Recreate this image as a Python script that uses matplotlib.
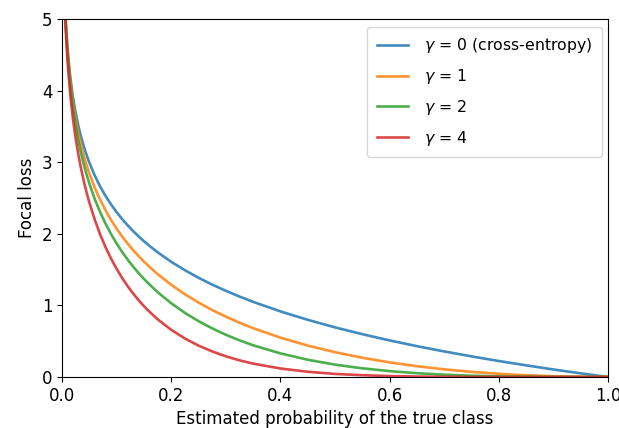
import matplotlib
matplotlib.use("Agg")
import matplotlib.pyplot as plt

plt.rcParams["font.size"] = 12

# Estimated probability of the true class (x positions of sampled points)
p = [0.001, 0.003, 0.005, 0.007, 0.01, 0.015, 0.02, 0.025, 0.03, 0.035, 0.04,
     0.045, 0.05, 0.06, 0.07, 0.08, 0.09, 0.1, 0.11, 0.12, 0.13, 0.14, 0.15,
     0.16, 0.175, 0.2, 0.225, 0.25, 0.275, 0.3, 0.325, 0.35, 0.4, 0.45, 0.5,
     0.55, 0.6, 0.65, 0.7, 0.75, 0.8, 0.85, 0.9, 0.95, 1.0]

# Focal loss values
loss_g0 = [6.908, 5.809, 5.298, 4.962, 4.605, 4.200, 3.912, 3.689, 3.507, 3.352, 3.219,
           3.101, 2.996, 2.813, 2.659, 2.526, 2.408, 2.303, 2.207, 2.120, 2.040, 1.966, 1.897,
           1.833, 1.743, 1.609, 1.492, 1.386, 1.291, 1.204, 1.124, 1.050, 0.916, 0.799, 0.693,
           0.598, 0.511, 0.431, 0.357, 0.288, 0.223, 0.163, 0.105, 0.051, 0.0]
loss_g1 = [6.901, 5.792, 5.272, 4.927, 4.559, 4.137, 3.834, 3.597, 3.402, 3.235, 3.090,
           2.961, 2.846, 2.644, 2.473, 2.324, 2.191, 2.072, 1.964, 1.866, 1.775, 1.691, 1.612,
           1.540, 1.438, 1.288, 1.156, 1.040, 0.936, 0.843, 0.759, 0.682, 0.550, 0.439, 0.347,
           0.269, 0.204, 0.151, 0.107, 0.072, 0.045, 0.024, 0.011, 0.003, 0.0]
loss_g2 = [6.894, 5.774, 5.246, 4.893, 4.513, 4.075, 3.757, 3.507, 3.300, 3.122, 2.966,
           2.828, 2.704, 2.485, 2.300, 2.138, 1.994, 1.865, 1.748, 1.642, 1.544, 1.454, 1.370,
           1.294, 1.186, 1.030, 0.896, 0.780, 0.679, 0.590, 0.512, 0.443, 0.330, 0.241, 0.173,
           0.121, 0.082, 0.053, 0.032, 0.018, 0.009, 0.004, 0.001, 0.000, 0.0]
loss_g4 = [6.880, 5.740, 5.194, 4.824, 4.423, 3.953, 3.607, 3.334, 3.105, 2.907, 2.734,
           2.579, 2.440, 2.197, 1.989, 1.809, 1.651, 1.511, 1.385, 1.271, 1.169, 1.075, 0.990,
           0.913, 0.807, 0.659, 0.538, 0.439, 0.357, 0.289, 0.233, 0.187, 0.119, 0.073, 0.043,
           0.025, 0.013, 0.006, 0.003, 0.001, 0.000, 0.000, 0.000, 0.000, 0.0]

labels = [r"$\gamma$ = 0 (cross-entropy)", r"$\gamma$ = 1", r"$\gamma$ = 2", r"$\gamma$ = 4"]
series = [loss_g0, loss_g1, loss_g2, loss_g4]
colors = ["#1f77b4", "#ff7f0e", "#2ca02c", "#d62728"]

fig = plt.figure(figsize=(6.19, 4.28), dpi=100)
ax = fig.add_axes([62/619, 1 - 377/428, (608 - 62)/619, (377 - 19)/428])

for ys, lab, c in zip(series, labels, colors):
    ax.plot(p, ys, color=c, label=lab, linewidth=1.9, alpha=0.85)

ax.set_xlim(0, 1)
ax.set_ylim(0, 5)
ax.set_xlabel("Estimated probability of the true class")
ax.set_ylabel("Focal loss")
ax.legend(loc="upper right", bbox_to_anchor=(602/619, 1 - 27/428),
          bbox_transform=fig.transFigure, borderaxespad=0, borderpad=0.6,
          fontsize=11.3, labelspacing=0.75, handletextpad=1.0)

fig.savefig("out.png", dpi=100)
